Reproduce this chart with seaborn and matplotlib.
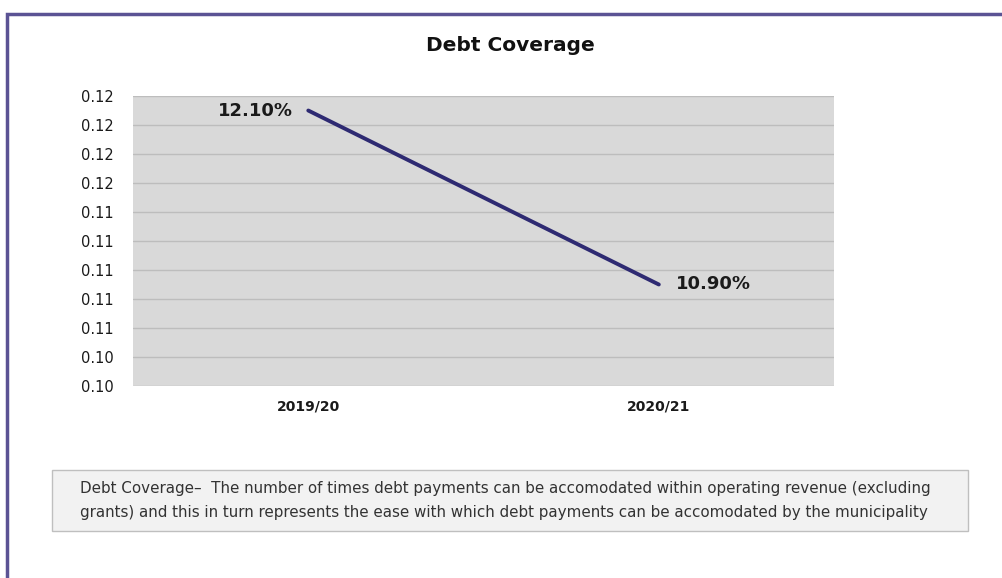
import numpy as np
import pandas as pd
import seaborn as sns
import matplotlib.pyplot as plt
from matplotlib.patches import Rectangle

# data
periods = ['2019/20', '2020/21']
coverage = [0.121, 0.109]
point_labels = ['12.10%', '10.90%']
y_ticks = [0.102, 0.104, 0.106, 0.108, 0.110, 0.112, 0.114, 0.116, 0.118, 0.120, 0.122]
note_lines = ['Debt Coverage\u2013  The number of times debt payments can be accomodated within operating revenue (excluding',
              'grants) and this in turn represents the ease with which debt payments can be accomodated by the municipality']

df = pd.DataFrame({'period': periods, 'coverage': coverage})

sns.set_style('white')
plt.rcParams['font.family'] = ['DejaVu Sans']

fig = plt.figure(figsize=[10.03, 5.78], dpi=100)
ax = fig.add_axes([0.1326, 0.3322, 0.699, 0.5017])
ax.set_facecolor('#d9d9d9')

sns.lineplot(data=df, x='period', y='coverage', color='#2e2a72', linewidth=2.8, ax=ax, zorder=3)

ax.set_xlim(-0.5, 1.5)
ax.set_ylim(y_ticks[0], y_ticks[-1])
ax.set_yticks(y_ticks)
ax.set_yticklabels([f'{v:.2f}' for v in y_ticks])
ax.yaxis.grid(True, color='#bdbdbd', linewidth=1)
ax.set_axisbelow(True)
ax.tick_params(axis='y', length=0, pad=14, labelsize=10.5, colors='#1a1a1a')
ax.tick_params(axis='x', length=0, pad=10, labelsize=10, colors='#1a1a1a')
for lab in ax.get_xticklabels():
    lab.set_fontweight('bold')
ax.set_xlabel('')
ax.set_ylabel('')
for s in ax.spines.values():
    s.set_visible(False)

# value labels
ax.annotate(point_labels[0], (0, coverage[0]), xytext=(-11, 0), textcoords='offset points',
            ha='right', va='center', fontsize=13, fontweight='bold', color='#1a1a1a')
ax.annotate(point_labels[1], (1, coverage[1]), xytext=(12, 0), textcoords='offset points',
            ha='left', va='center', fontsize=13, fontweight='bold', color='#1a1a1a')

fig.text(0.5085, 0.922, 'Debt Coverage', ha='center', va='center',
         fontsize=14.5, fontweight='bold', color='#111111')

# outer frame
fig.add_artist(Rectangle((7 / 1003, -0.1), 1.2, (578 - 14) / 578 + 0.1,
                         transform=fig.transFigure, fill=False, ec='#5b5394', lw=2.5))

# note box
fig.add_artist(Rectangle((52 / 1003, 1 - 531 / 578), 916 / 1003, 61 / 578,
                         transform=fig.transFigure, fc='#f2f2f2', ec='#bfbfbf', lw=1))
fig.text(80 / 1003, 1 - 489 / 578, note_lines[0], ha='left', va='center',
         fontsize=10.9, color='#333333')
fig.text(80 / 1003, 1 - 513 / 578, note_lines[1], ha='left', va='center',
         fontsize=10.9, color='#333333')

plt.savefig('out.png', dpi=100, facecolor='white')
